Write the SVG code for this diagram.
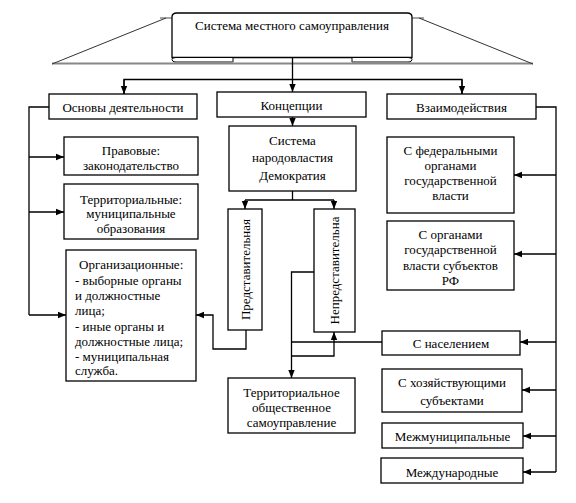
<svg xmlns="http://www.w3.org/2000/svg" width="576" height="503" viewBox="0 0 576 503">
<defs>
<marker id="ah" markerUnits="userSpaceOnUse" markerWidth="8" markerHeight="8" viewBox="0 0 8 8" refX="8" refY="4" orient="auto">
<path d="M0,0.8 L8,4 L0,7.2 Z" fill="#000"/>
</marker>
<style>
.box{fill:#fff;stroke:#000;stroke-width:1.3}
.ln{fill:none;stroke:#000;stroke-width:1.3}
.ar{fill:none;stroke:#000;stroke-width:1.3;marker-end:url(#ah)}
text{font-family:"Liberation Serif","Times New Roman",serif;font-size:13px;fill:#000}
.c{text-anchor:middle}
</style>
</defs>
<rect width="576" height="503" fill="#fff"/>

<g id="title">
<path d="M166,18 L52,63 L533,63 L419,18 Z" fill="#fff" stroke="none"/>
<line x1="160" y1="18" x2="175" y2="18" stroke="#888" stroke-width="1.5"/>
<line x1="409" y1="18" x2="424" y2="18" stroke="#888" stroke-width="1.5"/>
<line x1="52" y1="63.5" x2="533" y2="63.5" stroke="#888" stroke-width="2"/>
<line x1="52" y1="64" x2="166" y2="18" stroke="#333" stroke-width="1"/>
<line x1="533" y1="64" x2="419" y2="18" stroke="#333" stroke-width="1"/>
<path d="M172,57.5 L172,17 Q172,13 177,13 L407,13 Q412,13 412,17 L412,57.5 Z" class="box"/>
<path d="M176,57.5 L233,57.5 L233,62 L176,62 Q172,62 172,59.5 Q172,57.5 176,57.5 Z" fill="#fff" stroke="#000" stroke-width="1"/>
<line x1="174" y1="62.3" x2="233" y2="62.3" stroke="#888" stroke-width="1.5"/>
<path d="M352,57.5 L408,57.5 Q412,57.5 412,59.5 Q412,62 408,62 L352,62 Z" fill="#fff" stroke="#000" stroke-width="1"/>
<line x1="352" y1="62.3" x2="410" y2="62.3" stroke="#888" stroke-width="1.5"/>
<text x="292" y="30" class="c">Система местного самоуправления</text>
</g>

<g id="connectors">
<line x1="292.5" y1="57.5" x2="292.5" y2="92" class="ar"/>
<polyline points="124,94 124,79.5 462,79.5 462,94" class="ln"/>
<line x1="124" y1="79.5" x2="124" y2="94" class="ar"/>
<line x1="462" y1="79.5" x2="462" y2="94" class="ar"/>
<line x1="292.5" y1="117" x2="292.5" y2="126" class="ar"/>
<line x1="292.5" y1="191" x2="292.5" y2="200" class="ln"/>
<line x1="245" y1="200" x2="334" y2="200" class="ln"/>
<line x1="245" y1="200" x2="245" y2="209" class="ar"/>
<line x1="334" y1="200" x2="334" y2="209" class="ar"/>
<polyline points="49,107 29,107 29,315" class="ln"/>
<line x1="29" y1="157" x2="64" y2="157" class="ar"/>
<line x1="29" y1="212" x2="64" y2="212" class="ar"/>
<line x1="29" y1="315" x2="66" y2="315" class="ar"/>
<polyline points="246,330 246,349 213,349 213,315 196,315" class="ar"/>
<polyline points="314,272 291.5,272 291.5,378" class="ar"/>
<line x1="291.5" y1="342" x2="382" y2="342" class="ln"/>
<polyline points="291.5,356 334,356 334,332" class="ar"/>
<polyline points="536,107 556,107 556,472" class="ln"/>
<line x1="556" y1="175" x2="514" y2="175" class="ar"/>
<line x1="556" y1="254" x2="514" y2="254" class="ar"/>
<line x1="556" y1="342" x2="520" y2="342" class="ar"/>
<line x1="556" y1="390" x2="522" y2="390" class="ar"/>
<line x1="556" y1="436" x2="523" y2="436" class="ar"/>
<line x1="556" y1="472" x2="523" y2="472" class="ar"/>
</g>

<g id="osnovy">
<rect x="49" y="94" width="148" height="25" class="box"/>
<text x="123" y="111.5" class="c">Основы деятельности</text>
</g>
<g id="koncepcii">
<rect x="217" y="92" width="149" height="25" class="box"/>
<text x="291.5" y="109.5" class="c">Концепции</text>
</g>
<g id="vzaimodeystviya">
<rect x="387" y="94" width="149" height="25" class="box"/>
<text x="461.5" y="111.5" class="c">Взаимодействия</text>
</g>
<g id="pravovye">
<rect x="64" y="137" width="134" height="38" class="box"/>
<text x="131" y="155" class="c">Правовые:</text>
<text x="131" y="169.5" class="c">законодательство</text>
</g>
<g id="territorialnye">
<rect x="64" y="184" width="134" height="55" class="box"/>
<text x="131" y="203.5" class="c">Территориальные:</text>
<text x="131" y="218" class="c">муниципальные</text>
<text x="131" y="232.5" class="c">образования</text>
</g>
<g id="organizacionnye">
<rect x="66" y="250" width="130" height="131" class="box"/>
<text x="79" y="268.5">Организационные:</text>
<text x="75" y="284.5">- выборные органы</text>
<text x="75" y="299.5">и должностные</text>
<text x="75" y="314.5">лица;</text>
<text x="75" y="330.5">- иные органы и</text>
<text x="75" y="346">должностные лица;</text>
<text x="75" y="360.5">- муниципальная</text>
<text x="75" y="375">служба.</text>
</g>
<g id="sistema">
<rect x="229" y="126" width="127" height="65" class="box"/>
<text x="292.5" y="144.5" class="c">Система</text>
<text x="292.5" y="162" class="c">народовластия</text>
<text x="292.5" y="179.5" class="c">Демократия</text>
</g>
<g id="predstavitelnaya">
<rect x="228" y="209" width="34" height="121" class="box"/>
<text transform="translate(249.5,269.5) rotate(-90)" class="c">Представительная</text>
</g>
<g id="nepredstavitelnaya">
<rect x="314" y="209" width="41" height="123" class="box"/>
<text transform="translate(338.5,270.5) rotate(-90)" class="c">Непредставительна</text>
</g>
<g id="tos">
<rect x="228" y="378" width="127" height="55" class="box"/>
<text x="291.5" y="396.5" class="c">Территориальное</text>
<text x="291.5" y="412" class="c">общественное</text>
<text x="291.5" y="427" class="c">самоуправление</text>
</g>
<g id="federalnye">
<rect x="387" y="137" width="127" height="76" class="box"/>
<text x="450.5" y="155" class="c">С федеральными</text>
<text x="450.5" y="169.5" class="c">органами</text>
<text x="450.5" y="184.5" class="c">государственной</text>
<text x="450.5" y="199.5" class="c">власти</text>
</g>
<g id="subekty">
<rect x="387" y="221" width="127" height="69" class="box"/>
<text x="450.5" y="238.5" class="c">С органами</text>
<text x="450.5" y="254" class="c">государственной</text>
<text x="450.5" y="269.5" class="c">власти субъектов</text>
<text x="450.5" y="284.5" class="c">РФ</text>
</g>
<g id="naselenie">
<rect x="382" y="331" width="138" height="24" class="box"/>
<text x="451" y="347.5" class="c">С населением</text>
</g>
<g id="hozyaystvuyushchie">
<rect x="382" y="369" width="140" height="43" class="box"/>
<text x="452" y="387" class="c">С хозяйствующими</text>
<text x="452" y="404.5" class="c">субъектами</text>
</g>
<g id="mezhmunicipalnye">
<rect x="382" y="423" width="141" height="25" class="box"/>
<text x="452.5" y="441" class="c">Межмуниципальные</text>
</g>
<g id="mezhdunarodnye">
<rect x="381" y="458" width="142" height="25" class="box"/>
<text x="452" y="477" class="c">Международные</text>
</g>
</svg>
